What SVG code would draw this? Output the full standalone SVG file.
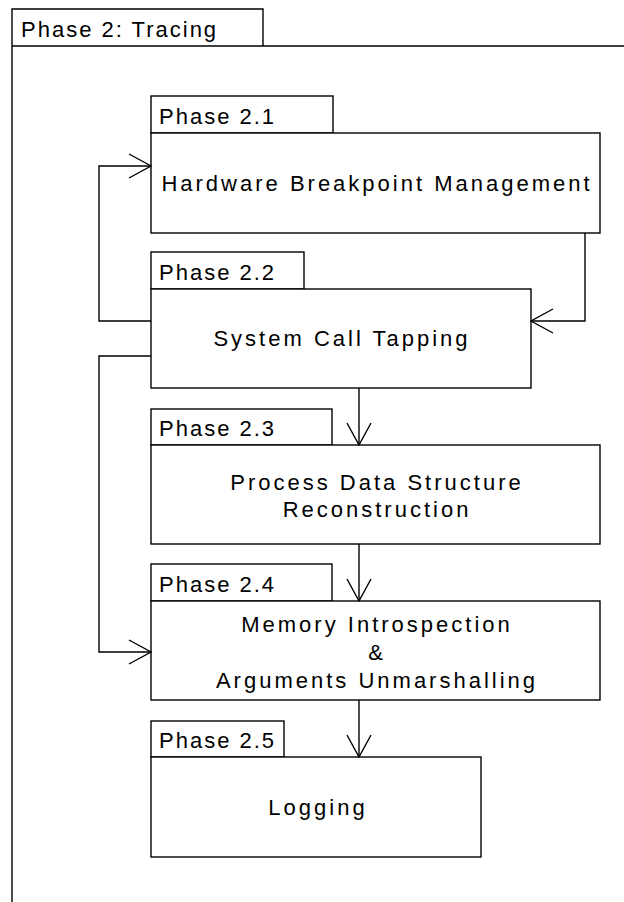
<svg xmlns="http://www.w3.org/2000/svg" width="624" height="902" viewBox="0 0 624 902">
<style>
  .box { fill: #fff; stroke: #000; stroke-width: 1.4; }
  .tab { font-family: "Liberation Sans", Arial, sans-serif; font-size: 22px; letter-spacing: 2px; fill: #000; }
  .lbl { font-family: "Liberation Sans", Arial, sans-serif; font-size: 22px; letter-spacing: 3px; fill: #000; text-anchor: middle; }
  .conn { fill: none; stroke: #000; stroke-width: 1.4; }
</style>
<defs>
  <marker id="open" viewBox="0 0 24 26" refX="23" refY="13" markerWidth="24" markerHeight="26" markerUnits="userSpaceOnUse" orient="auto">
    <path d="M1,1 L23,13 L1,25" fill="none" stroke="#000" stroke-width="1.4"/>
  </marker>
</defs>
<rect width="624" height="902" fill="#fff"/>
<g id="frame">
  <path class="conn" d="M12,902 L12,9 L263,9 L263,46 M12,46 L630,46"/>
  <text class="tab" x="21" y="37">Phase 2: Tracing</text>
</g>
<g id="p21">
  <rect class="box" x="151" y="96" width="182" height="37"/>
  <rect class="box" x="151" y="133" width="449" height="100"/>
  <text class="tab" x="159" y="124">Phase 2.1</text>
  <text class="lbl" x="377" y="191">Hardware Breakpoint Management</text>
</g>
<g id="p22">
  <rect class="box" x="151" y="252" width="153" height="37"/>
  <rect class="box" x="151" y="289" width="380" height="99"/>
  <text class="tab" x="159" y="280">Phase 2.2</text>
  <text class="lbl" x="342" y="346">System Call Tapping</text>
</g>
<g id="p23">
  <rect class="box" x="151" y="409" width="181" height="36"/>
  <rect class="box" x="151" y="445" width="449" height="99"/>
  <text class="tab" x="159" y="436">Phase 2.3</text>
  <text class="lbl" x="377" y="490">Process Data Structure</text>
  <text class="lbl" x="377" y="517">Reconstruction</text>
</g>
<g id="p24">
  <rect class="box" x="151" y="564" width="181" height="37"/>
  <rect class="box" x="151" y="601" width="449" height="99"/>
  <text class="tab" x="159" y="592">Phase 2.4</text>
  <text class="lbl" x="377" y="632">Memory Introspection</text>
  <text class="lbl" x="377" y="660">&amp;</text>
  <text class="lbl" x="377" y="688">Arguments Unmarshalling</text>
</g>
<g id="p25">
  <rect class="box" x="151" y="721" width="133" height="36"/>
  <rect class="box" x="151" y="757" width="330" height="100"/>
  <text class="tab" x="159" y="748">Phase 2.5</text>
  <text class="lbl" x="318" y="815">Logging</text>
</g>
<g id="connectors">
  <path class="conn" marker-end="url(#open)" d="M151,321 L99,321 L99,166 L151,166"/>
  <path class="conn" marker-end="url(#open)" d="M585,233 L585,321 L531,321"/>
  <path class="conn" marker-end="url(#open)" d="M151,356 L99,356 L99,652 L151,652"/>
  <path class="conn" marker-end="url(#open)" d="M359,388 L359,445"/>
  <path class="conn" marker-end="url(#open)" d="M359,544 L359,601"/>
  <path class="conn" marker-end="url(#open)" d="M359,700 L359,757"/>
</g>
</svg>
